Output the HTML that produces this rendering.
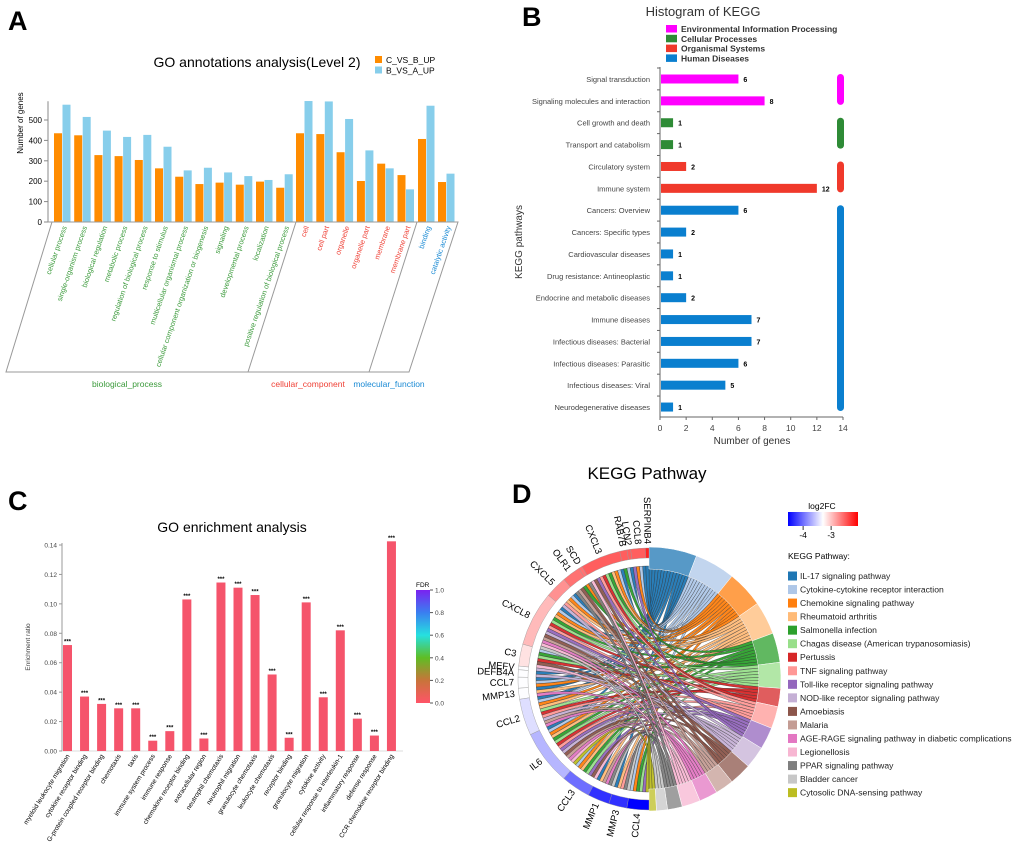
<!DOCTYPE html>
<html><head><meta charset="utf-8"><style>
body{margin:0;background:#fff;}
svg{display:block;font-family:"Liberation Sans",Arial,sans-serif;}
</style></head><body>
<svg id="fig" width="1020" height="853" viewBox="0 0 1020 853" xmlns="http://www.w3.org/2000/svg">
<g id="pA"></g>
<g id="pB"></g>
<g id="pC"></g>
<g id="pD"></g>
</svg>
<script>
// ---------- Panel A data ----------
const goCats = ["cellular process","single-organism process","biological regulation","metabolic process","regulation of biological process","response to stimulus","multicellular organismal process","cellular component organization or biogenesis","signaling","developmental process","localization","positive regulation of biological process","cell","cell part","organelle","organelle part","membrane","membrane part","binding","catalytic activity"];
const goSection = [0,0,0,0,0,0,0,0,0,0,0,0,1,1,1,1,1,1,2,2];
const goOrange = [435,425,328,323,304,263,222,186,193,183,198,168,435,431,342,201,286,230,407,196];
const goBlue = [575,515,448,417,427,369,253,266,243,225,206,234,593,591,505,351,263,160,570,237];
const goTicks = [0,100,200,300,400,500];
// ---------- Panel B data ----------
const keggCats = ["Signal transduction","Signaling molecules and interaction","Cell growth and death","Transport and catabolism","Circulatory system","Immune system","Cancers: Overview","Cancers: Specific types","Cardiovascular diseases","Drug resistance: Antineoplastic","Endocrine and metabolic diseases","Immune diseases","Infectious diseases: Bacterial","Infectious diseases: Parasitic","Infectious diseases: Viral","Neurodegenerative diseases"];
const keggVals = [6,8,1,1,2,12,6,2,1,1,2,7,7,6,5,1];
const keggGroup = [0,0,1,1,2,2,3,3,3,3,3,3,3,3,3,3];
const keggGroupNames = ["Environmental Information Processing","Cellular Processes","Organismal Systems","Human Diseases"];
const keggTicks = [0,2,4,6,8,10,12,14];
// ---------- Panel C data ----------
const enrCats = ["myeloid leukocyte migration","cytokine receptor binding","G-protein coupled receptor binding","chemotaxis","taxis","immune system process","immune response","chemokine receptor binding","extracellular region","neutrophil chemotaxis","neutrophil migration","granulocyte chemotaxis","leukocyte chemotaxis","receptor binding","granulocyte migration","cytokine activity","cellular response to interleukin-1","inflammatory response","defense response","CCR chemokine receptor binding"];
const enrVals = [0.072,0.037,0.032,0.029,0.029,0.007,0.0135,0.103,0.0085,0.1145,0.111,0.106,0.052,0.009,0.101,0.0365,0.082,0.022,0.0105,0.1425];
const enrTicks = [0,0.02,0.04,0.06,0.08,0.10,0.12,0.14];
const fdrTicks = [0,0.2,0.4,0.6,0.8,1.0];
// ---------- Panel D data ----------
const genes = ["SERPINB4","CCL8","LCN2","RAB7B","CXCL3","SCD","OLR1","CXCL5","CXCL8","C3","MEFV","DEFB4A","CCL7","MMP13","CCL2","IL6","CCL3","MMP1","MMP3","CCL4"];
const geneFC = [-2.2,-2.5,-2.5,-2.5,-2.5,-2.6,-2.6,-2.75,-2.95,-3.15,-3.3,-3.3,-3.3,-3.3,-3.45,-3.65,-4.0,-4.3,-4.3,-4.6];
const pathways = ["IL-17 signaling pathway","Cytokine-cytokine receptor interaction","Chemokine signaling pathway","Rheumatoid arthritis","Salmonella infection","Chagas disease (American trypanosomiasis)","Pertussis","TNF signaling pathway","Toll-like receptor signaling pathway","NOD-like receptor signaling pathway","Amoebiasis","Malaria","AGE-RAGE signaling pathway in diabetic complications","Legionellosis","PPAR signaling pathway","Bladder cancer","Cytosolic DNA-sensing pathway"];
const pathwayGenes = [
 [2,4,7,8,11,12,13,14,15,17,18,1,0],
 [1,4,7,8,12,14,15,16,19,3,9],
 [1,4,7,8,12,14,16,19,15,6],
 [4,7,8,14,15,16,17,18,13],
 [4,8,15,16,19,9,6,3],
 [8,14,15,16,19,9,4],
 [8,15,9,14,4],
 [4,7,14,15,18,8],
 [8,15,16,19,4,1],
 [8,14,15,10,11,7],
 [8,15,9,4,16,6],
 [8,14,15,6,17],
 [8,14,15,13,17],
 [8,15,9,4,16],
 [5,17,6,18],
 [8,17,18],
 [15,19]
];
const fcTicks = [-4,-3];

const NS="http://www.w3.org/2000/svg";
function el(parent,tag,attrs,text){const e=document.createElementNS(NS,tag);for(const k in attrs)e.setAttribute(k,attrs[k]);if(text!==undefined)e.textContent=text;parent.appendChild(e);return e;}

// ================= Panel A =================
(function(){
const g=document.getElementById('pA');
let t=el(g,'text',{x:8,y:30,'font-size':27,'font-weight':'bold'},'A');


t=el(g,'text',{x:257,y:67,'font-size':14,'text-anchor':'middle'},'GO annotations analysis(Level 2)');


const leg=[['#ff8c00','C_VS_B_UP'],['#87ceeb','B_VS_A_UP']];
leg.forEach((l,i)=>{
 const r=el(g,'rect',{x:375,y:56+i*10.5,width:7,height:7,fill:l[0]});
 
 
 const tx=el(g,'text',{x:386,y:63+i*10.5,'font-size':8.5},l[1]);
 
 
});
const y0=222, ppu=20.4/100;
const yA=v=>y0-v*ppu;
const secStart=[54,296,418], secStep=[20.2,20.3,20];
const secFirst=[0,12,18];
const xA=i=>secStart[goSection[i]]+secStep[goSection[i]]*(i-secFirst[goSection[i]]);
// axis
let a=el(g,'line',{x1:48,y1:yA(592),x2:48,y2:y0,stroke:'#888'});


goTicks.forEach(v=>{
 el(g,'line',{x1:44,y1:yA(v),x2:48,y2:yA(v),stroke:'#888'});
 const tt=el(g,'text',{x:42,y:yA(v)+3,'font-size':8,'text-anchor':'end'},v);
 
 
});
t=el(g,'text',{transform:'translate(23,123) rotate(-90)','font-size':8,'text-anchor':'middle'},'Number of genes');


const colors=['#3a9a3a','#ef4136','#1a8ad4'];
goCats.forEach((c,i)=>{
 const x=xA(i);
 let r=el(g,'rect',{x:x,y:yA(goOrange[i]),width:8,height:goOrange[i]*ppu,fill:'#ff8c00'});
 
 
 r=el(g,'rect',{x:x+8.5,y:yA(goBlue[i]),width:8,height:goBlue[i]*ppu,fill:'#87ceeb'});
 
 
 const lb=el(g,'text',{transform:`translate(${x+13},227) rotate(-71)`,'font-size':7.3,'text-anchor':'end',fill:colors[goSection[i]]},c);
 
 
});
// parallelogram frame
const st={stroke:'#999',fill:'none','stroke-width':1};
el(g,'polyline',Object.assign({points:'48,222 458,222 409,372 6,372 52,222'},st));
el(g,'line',Object.assign({x1:296,y1:222,x2:248,y2:372},st));
el(g,'line',Object.assign({x1:417,y1:222,x2:369,y2:372},st));
[['biological_process',127,0],['cellular_component',308,1],['molecular_function',389,2]].forEach(s=>{
 const tx=el(g,'text',{x:s[1],y:387,'font-size':8.5,'text-anchor':'middle',fill:colors[s[2]]},s[0]);
 
 
});
})();

// ================= Panel B =================
(function(){
const g=document.getElementById('pB');
let t=el(g,'text',{x:522,y:26,'font-size':27,'font-weight':'bold'},'B');


t=el(g,'text',{x:703,y:16,'font-size':13,'text-anchor':'middle',fill:'#333'},'Histogram of KEGG');


const gc=['#ff00ff','#2e8b36','#f0392b','#0a7fcf'];
keggGroupNames.forEach((n,i)=>{
 const r=el(g,'rect',{x:666,y:25+i*9.8,width:11,height:7.5,fill:gc[i]});
 
 
 const tx=el(g,'text',{x:681,y:32+i*9.8,'font-size':8.5,'font-weight':'bold',fill:'#333'},n);
 
 
});
const x0=660, ppu=(843-660)/14;
const xB=v=>x0+v*ppu;
const yB=i=>79+i*21.87;
el(g,'line',{x1:x0,y1:67,x2:x0,y2:417,stroke:'#666'});
el(g,'line',{x1:x0,y1:417,x2:843,y2:417,stroke:'#666'});
keggTicks.forEach(v=>{
 el(g,'line',{x1:xB(v),y1:417,x2:xB(v),y2:420,stroke:'#666'});
 const tt=el(g,'text',{x:xB(v),y:431,'font-size':8.5,'text-anchor':'middle',fill:'#444'},v);
 
 
});
t=el(g,'text',{x:752,y:444,'font-size':10,'text-anchor':'middle',fill:'#333'},'Number of genes');


t=el(g,'text',{transform:'translate(522,242) rotate(-90)','font-size':10,'text-anchor':'middle',fill:'#333'},'KEGG pathways');


keggCats.forEach((c,i)=>{
 const y=yB(i);
 el(g,'line',{x1:x0-3,y1:y-11,x2:x0,y2:y-11,stroke:'#666'});
 const lb=el(g,'text',{x:650,y:y+3,'font-size':7.5,'text-anchor':'end',fill:'#444'},c);
 
 
 const r=el(g,'rect',{x:x0+1,y:y-4.5,width:xB(keggVals[i])-x0-1,height:9,fill:gc[keggGroup[i]]});
 
 
 const v=el(g,'text',{x:xB(keggVals[i])+5,y:y+3,'font-size':7,'font-weight':'bold'},keggVals[i]);
 
 
});
// group bars
for(let k=0;k<4;k++){
 const idx=keggGroup.map((gg,i)=>gg===k?i:-1).filter(i=>i>=0);
 const ya=yB(idx[0])-5, yb=yB(idx[idx.length-1])+4;
 const r=el(g,'rect',{x:837,y:ya,width:7,height:yb-ya,rx:3.5,fill:gc[k]});
 
 
}
})();

// ================= Panel C =================
(function(){
const g=document.getElementById('pC');
let t=el(g,'text',{x:8,y:510,'font-size':27,'font-weight':'bold'},'C');


t=el(g,'text',{x:232,y:532,'font-size':14,'text-anchor':'middle'},'GO enrichment analysis');


const y0=751, ppu=(751-545)/0.14;
const yC=v=>y0-v*ppu;
const xC=i=>63+i*17.05;
el(g,'line',{x1:62,y1:543,x2:62,y2:y0,stroke:'#999'});
el(g,'line',{x1:62,y1:y0,x2:403,y2:y0,stroke:'#ddd'});
enrTicks.forEach(v=>{
 el(g,'line',{x1:59,y1:yC(v),x2:62,y2:yC(v),stroke:'#999'});
 const tt=el(g,'text',{x:57,y:yC(v)+2.5,'font-size':6.5,'text-anchor':'end',fill:'#444'},v.toFixed(2));
 
 
});
t=el(g,'text',{transform:'translate(30,647) rotate(-90)','font-size':6.5,'text-anchor':'middle',fill:'#444'},'Enrichment ratio');


enrCats.forEach((c,i)=>{
 const x=xC(i);
 const r=el(g,'rect',{x:x,y:yC(enrVals[i]),width:9,height:enrVals[i]*ppu,fill:'#f5546b'});
 
 
 const s=el(g,'text',{x:x+4.5,y:yC(enrVals[i])-1.5,'font-size':6,'text-anchor':'middle','font-weight':'bold'},'***');
 
 
 const lb=el(g,'text',{transform:`translate(${x+7},756) rotate(-58)`,'font-size':6.6,'text-anchor':'end'},c);
 
 
});
const defs=el(document.getElementById('fig'),'defs',{});
const lg=el(defs,'linearGradient',{id:'fdrGrad',x1:0,y1:1,x2:0,y2:0});
[['0','#ff5468'],['0.2','#c8743a'],['0.4','#5fbd24'],['0.6','#26e0e0'],['0.8','#3a7ff0'],['1','#7a22f0']].forEach(s=>el(lg,'stop',{offset:s[0],'stop-color':s[1]}));
const cb=el(g,'rect',{x:416,y:590,width:14,height:113,fill:'url(#fdrGrad)'});


t=el(g,'text',{x:416,y:587,'font-size':6.5},'FDR');


fdrTicks.forEach(v=>{
 const y=703-v*113;
 el(g,'line',{x1:430,y1:y,x2:433,y2:y,stroke:'#555'});
 const tt=el(g,'text',{x:435,y:y+2.5,'font-size':6.5,fill:'#444'},v.toFixed(1));
 
 
});
})();

// ================= Panel D =================
(function(){
const g=document.getElementById('pD');
let t=el(g,'text',{x:647,y:479,'font-size':17,'text-anchor':'middle'},'KEGG Pathway');


t=el(g,'text',{x:512,y:503,'font-size':27,'font-weight':'bold'},'D');


const pcol=['#1f77b4','#aec7e8','#ff7f0e','#ffbb78','#2ca02c','#98df8a','#d62728','#ff9896','#9467bd','#c5b0d5','#8c564b','#c49c94','#e377c2','#f7b6d2','#7f7f7f','#c7c7c7','#bcbd22'];
const cx=649, cy=679;
const total=pathwayGenes.reduce((s,a)=>s+a.length,0);
const u=Math.PI/total;
const geneCount=genes.map((_,k)=>pathwayGenes.reduce((s,a)=>s+a.filter(v=>v===k).length,0));
// angles: measured clockwise from top
const P=(a,r)=>[cx+r*Math.sin(a),cy-r*Math.cos(a)];
function fcColor(v){
 let tt=(v+4.54)/2.5;tt=Math.max(0,Math.min(1,tt));
 let c;
 if(tt<0.5){const k=tt/0.5;c=[Math.round(255*k),Math.round(255*k),255];}
 else{const k=(tt-0.5)/0.5;c=[255,Math.round(255*(1-k)),Math.round(255*(1-k))];}
 return `rgb(${c[0]},${c[1]},${c[2]})`;
}
function arcSeg(a1,a2,r1,r2){
 const p1=P(a1,r2),p2=P(a2,r2),p3=P(a2,r1),p4=P(a1,r1);
 const lg=(a2-a1)>Math.PI?1:0;
 return `M${p1}A${r2},${r2} 0 ${lg} 1 ${p2}L${p3}A${r1},${r1} 0 ${lg} 0 ${p4}Z`;
}
// gene start angles (counter-clockwise from top on left)
const geneStart=[];let acc=0;
genes.forEach((_,k)=>{geneStart.push(2*Math.PI-acc*u);acc+=geneCount[k];});
const geneSlot=genes.map(()=>0);
const chordG=el(g,'g',{});


let pa=0;
pathwayGenes.forEach((lst,p)=>{
 const a0=pa*u, a1=(pa+lst.length)*u;
 const seg=el(g,'path',{d:arcSeg(a0,a1,110,132),fill:pcol[p],'fill-opacity':0.75,stroke:'#fff','stroke-width':0.5});
 
 
 lst.forEach((gk,j)=>{
  const s1=(pa+j)*u, s2=(pa+j+1)*u;
  const gs=geneStart[gk]-geneSlot[gk]*u; geneSlot[gk]++;
  const g1=gs-u, g2=gs;
  const r=110, rg=113;
  const A=P(s1,r),B=P(s2,r),C=P(g1,rg),D=P(g2,rg);
  const d=`M${A}A${r},${r} 0 0 1 ${B}Q${cx},${cy} ${C}A${rg},${rg} 0 0 1 ${D}Q${cx},${cy} ${A}Z`;
  const ch=el(chordG,'path',{d:d,fill:pcol[p],stroke:'#333','stroke-width':0.35,'fill-opacity':0.95});
  
  
 });
 pa+=lst.length;
});
genes.forEach((n,k)=>{
 const a2=geneStart[k], a1=a2-geneCount[k]*u;
 const seg=el(g,'path',{d:arcSeg(a1,a2,121,131),fill:fcColor(geneFC[k]),stroke:'#999','stroke-width':0.4});
 
 
 const am=(a1+a2)/2;
 const p=P(am,135);
 const deg=Math.atan2(p[1]-cy,p[0]-cx)*180/Math.PI+180;
 const lb=el(g,'text',{transform:`translate(${p[0]},${p[1]}) rotate(${deg})`,'font-size':9.5,'text-anchor':'end','dominant-baseline':'middle'},n);
 
 
});
// colorbar
const defs=document.querySelector('defs');
const lg=el(defs,'linearGradient',{id:'fcGrad',x1:0,y1:0,x2:1,y2:0});
[['0','#0000ff'],['0.5','#ffffff'],['1','#ff0000']].forEach(s=>el(lg,'stop',{offset:s[0],'stop-color':s[1]}));
t=el(g,'text',{x:822,y:509,'font-size':8.5,'text-anchor':'middle'},'log2FC');


const cb=el(g,'rect',{x:788,y:512,width:70,height:14,fill:'url(#fcGrad)'});


fcTicks.forEach(v=>{
 const x=788+(v+4.54)*28;
 el(g,'line',{x1:x,y1:526,x2:x,y2:530,stroke:'#333'});
 const tt=el(g,'text',{x:x,y:538,'font-size':8.5,'text-anchor':'middle'},v);
 
 
});
t=el(g,'text',{x:788,y:559,'font-size':8.5},'KEGG Pathway:');


pathways.forEach((n,i)=>{
 const y=576+i*13.54;
 const r=el(g,'rect',{x:788,y:y-4.5,width:9,height:9,fill:pcol[i]});
 
 
 const tx=el(g,'text',{x:800,y:y+3,'font-size':8.6,fill:'#222'},n);
 
 
});
})();
</script>
</body></html>
